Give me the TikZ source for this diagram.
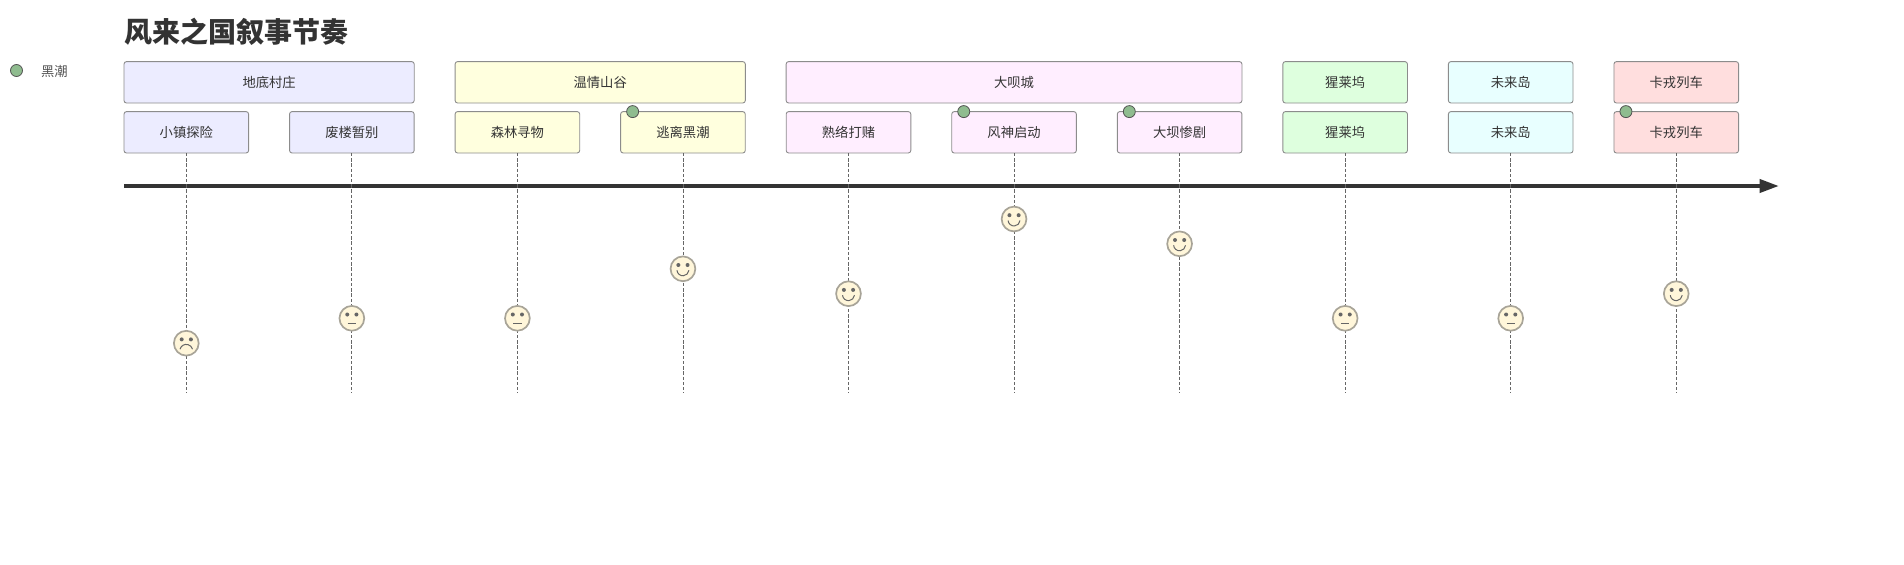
\documentclass[tikz,border=0pt]{standalone}
\usepackage{fontspec}
\setmainfont{Noto Sans CJK SC}
\usetikzlibrary{arrows.meta,positioning}

\definecolor{ink}{HTML}{333333}
\definecolor{faceline}{HTML}{A8A498}
\definecolor{facefill}{HTML}{FFF6DA}
\definecolor{eyecol}{HTML}{666666}
\definecolor{dotgreen}{HTML}{8FBC8F}
\definecolor{secA}{HTML}{ECECFF}
\definecolor{secB}{HTML}{FFFFDE}
\definecolor{secC}{HTML}{FFEEFF}
\definecolor{secD}{HTML}{DEFFDE}
\definecolor{secE}{HTML}{E8FFFF}
\definecolor{secF}{HTML}{FFDEDE}

\tikzset{
    box/.style={draw=black!45, rounded corners=2.5pt, line width=0.9pt, minimum width=124.6pt,
        minimum height=41.4pt, inner sep=0pt, outer sep=0pt, text=ink, font=\fontsize{13.3pt}{15pt}\selectfont},
    face/.style={circle, draw=faceline, fill=facefill, line width=1.7pt, minimum size=24.8pt, inner sep=0pt},
    happy/.style={face, path picture={
        \fill[eyecol] (path picture bounding box.center) +(-4.6pt,3.8pt) circle (2pt) +(4.6pt,3.8pt) circle (2pt);
        \draw[eyecol, line width=1pt] (path picture bounding box.center) +(-6pt,-1.5pt) arc[start angle=185, end angle=355, radius=6pt];}},
    flat/.style={face, path picture={
        \fill[eyecol] (path picture bounding box.center) +(-4.6pt,3.8pt) circle (2pt) +(4.6pt,3.8pt) circle (2pt);
        \draw[eyecol, line width=1pt] (path picture bounding box.center) +(-4.2pt,-5.5pt) -- +(4.2pt,-5.5pt);}},
    sad/.style={face, path picture={
        \fill[eyecol] (path picture bounding box.center) +(-4.6pt,3.8pt) circle (2pt) +(4.6pt,3.8pt) circle (2pt);
        \draw[eyecol, line width=1pt] (path picture bounding box.center) +(-6.3pt,-6pt) arc[start angle=165, end angle=15, radius=6.5pt];}},
    actordot/.style={circle, draw=ink!85, fill=dotgreen, line width=0.8pt, minimum size=12pt, inner sep=0pt},
    lifeline/.style={draw=eyecol, line width=0.9pt, dash pattern=on 3.4pt off 1.8pt},
}

\begin{document}
\begin{tikzpicture}[x=1pt,y=-1pt,node distance=165.55pt,on grid]
    \useasboundingbox (0,0) rectangle (1904,565);

    \node[anchor=west, text=ink, font=\fontsize{28pt}{32pt}\selectfont\bfseries] (title) at (120.5,32) {风来之国叙事节奏};
    \node[actordot] (legenddot) at (16.5,70.5) {};
    \node[anchor=west, text=ink!85, font=\fontsize{13.3pt}{15pt}\selectfont] (legend) at (37.5,71) {黑潮};

    % tasks
    \node[box, fill=secA] (t1) at (186.3,132.3) {小镇探险};
    \node[box, fill=secA, right=of t1] (t2) {废楼暂别};
    \node[box, fill=secB, right=of t2] (t3) {森林寻物};
    \node[box, fill=secB, right=of t3] (t4) {逃离黑潮};
    \node[box, fill=secC, right=of t4] (t5) {熟络打赌};
    \node[box, fill=secC, right=of t5] (t6) {风神启动};
    \node[box, fill=secC, right=of t6] (t7) {大坝惨剧};
    \node[box, fill=secD, right=of t7] (t8) {猩莱坞};
    \node[box, fill=secE, right=of t8] (t9) {未来岛};
    \node[box, fill=secF, right=of t9] (t10) {卡戎列车};

    % sections
    \node[box, fill=secA, minimum width=290.2pt, above=50pt of t1, xshift=82.8pt] (s1) {地底村庄};
    \node[box, fill=secB, minimum width=290.2pt, above=50pt of t3, xshift=82.8pt] (s2) {温情山谷};
    \node[box, fill=secC, minimum width=455.8pt, above=50pt of t6] (s3) {大呗城};
    \node[box, fill=secD, above=50pt of t8] (s4) {猩莱坞};
    \node[box, fill=secE, above=50pt of t9] (s5) {未来岛};
    \node[box, fill=secF, above=50pt of t10] (s6) {卡戎列车};

    % timeline
    \coordinate (axisstart) at (124,186);
    \coordinate (axisend) at (1779,186);
    \draw[ink, line width=4pt, -{Triangle[length=19.5pt,width=13pt]}] (axisstart) -- (axisend);

    % lifelines
    \coordinate[below=240pt of t1.south] (e1);
    \coordinate[below=240pt of t2.south] (e2);
    \coordinate[below=240pt of t3.south] (e3);
    \coordinate[below=240pt of t4.south] (e4);
    \coordinate[below=240pt of t5.south] (e5);
    \coordinate[below=240pt of t6.south] (e6);
    \coordinate[below=240pt of t7.south] (e7);
    \coordinate[below=240pt of t8.south] (e8);
    \coordinate[below=240pt of t9.south] (e9);
    \coordinate[below=240pt of t10.south] (e10);
    \draw[lifeline] (t1.south) -- (e1);
    \draw[lifeline] (t2.south) -- (e2);
    \draw[lifeline] (t3.south) -- (e3);
    \draw[lifeline] (t4.south) -- (e4);
    \draw[lifeline] (t5.south) -- (e5);
    \draw[lifeline] (t6.south) -- (e6);
    \draw[lifeline] (t7.south) -- (e7);
    \draw[lifeline] (t8.south) -- (e8);
    \draw[lifeline] (t9.south) -- (e9);
    \draw[lifeline] (t10.south) -- (e10);

    % faces
    \node[sad] (f1) at (t1 |- 0,343.2) {};
    \node[flat] (f2) at (t2 |- 0,318.3) {};
    \node[flat] (f3) at (t3 |- 0,318.3) {};
    \node[happy] (f4) at (t4 |- 0,268.8) {};
    \node[happy] (f5) at (t5 |- 0,293.7) {};
    \node[happy] (f6) at (t6 |- 0,219) {};
    \node[happy] (f7) at (t7 |- 0,243.8) {};
    \node[flat] (f8) at (t8 |- 0,318.3) {};
    \node[flat] (f9) at (t9 |- 0,318.3) {};
    \node[happy] (f10) at (t10 |- 0,293.7) {};

    % actor dots
    \node[actordot] (d4) at ([xshift=12pt]t4.north west) {};
    \node[actordot] (d6) at ([xshift=12pt]t6.north west) {};
    \node[actordot] (d7) at ([xshift=12pt]t7.north west) {};
    \node[actordot] (d10) at ([xshift=12pt]t10.north west) {};
\end{tikzpicture}
\end{document}
